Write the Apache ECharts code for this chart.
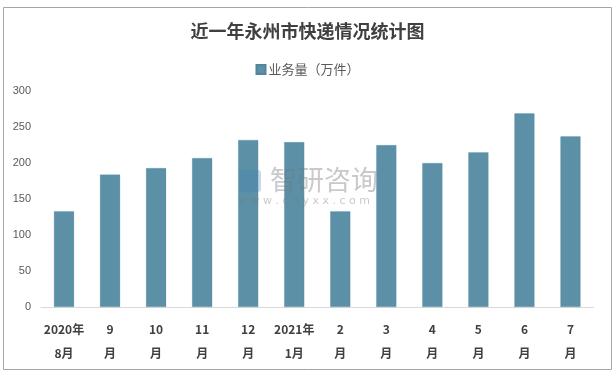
<!DOCTYPE html>
<html>
<head>
<meta charset="utf-8">
<script src="https://cdn.jsdelivr.net/npm/echarts@6/dist/echarts.min.js"></script>
<style>
  html, body { margin: 0; padding: 0; background: #fff; }
  #chart { width: 615px; height: 376px; }
</style>
</head>
<body>
<div id="chart"></div>
<script>
const months = ['2020年\n8月', '9\n月', '10\n月', '11\n月', '12\n月', '2021年\n1月', '2\n月', '3\n月', '4\n月', '5\n月', '6\n月', '7\n月'];
const volume = [133, 184, 193, 207, 232, 229, 133, 225, 200, 215, 269, 237];
const yTicks = [0, 50, 100, 150, 200, 250, 300];

const chart = echarts.init(document.getElementById('chart'), null, { renderer: 'canvas' });

chart.setOption({
  animation: false,
  title: {
    text: '近一年永州市快递情况统计图',
    left: 'center',
    top: 17,
    textStyle: {
      fontFamily: 'Noto Sans CJK SC',
      fontSize: 18,
      fontWeight: 'bold',
      color: '#404040'
    }
  },
  legend: {
    data: ['业务量（万件）'],
    top: 58,
    left: 'center',
    itemWidth: 9,
    itemHeight: 9,
    itemGap: 4,
    icon: 'rect',
    textStyle: { fontFamily: 'Noto Sans CJK SC', fontSize: 13, color: '#595959', padding: [0, 0, 0, -2] }
  },
  graphic: [
    {
      type: 'rect',
      shape: { x: 3.5, y: 7.5, width: 608, height: 362 },
      style: { fill: 'none', stroke: '#a6a6a6', lineWidth: 1 },
      silent: true
    },
    {
      type: 'text',
      left: 270,
      top: 166,
      style: { text: '智研咨询', font: '27px "Noto Sans CJK SC"', fill: 'rgba(120,120,120,0.4)' },
      silent: true, z: 10
    },
    {
      type: 'rect',
      shape: { x: 239, y: 170, width: 22, height: 22, r: 3 },
      style: { fill: 'rgba(70,130,180,0.3)' },
      silent: true, z: 10
    },
    {
      type: 'text',
      left: 238,
      top: 196,
      style: { text: 'w w w . c h y x x . c o m', font: '11px "DejaVu Sans"', fill: 'rgba(120,120,120,0.4)' },
      silent: true, z: 10
    }
  ],
  grid: { left: 41, right: 21.5, top: 91, bottom: 69 },
  xAxis: {
    type: 'category',
    data: months,
    axisLine: { lineStyle: { color: '#d9d9d9' } },
    axisTick: { show: false },
    axisLabel: {
      interval: 0,
      margin: 10,
      lineHeight: 24,
      fontFamily: 'Noto Sans CJK SC',
      fontSize: 12,
      fontWeight: 'bold',
      color: '#404040'
    }
  },
  yAxis: {
    type: 'value',
    min: yTicks[0],
    max: yTicks[yTicks.length - 1],
    interval: 50,
    splitLine: { show: false },
    axisLine: { show: false },
    axisTick: { show: false },
    axisLabel: { fontFamily: 'Liberation Sans', fontSize: 11, color: '#595959', margin: 10 }
  },
  series: [
    {
      name: '业务量（万件）',
      type: 'bar',
      data: volume,
      barWidth: '44%',
      itemStyle: { color: '#5b90a7', borderColor: '#52859c', borderWidth: 0.5, borderType: 'dotted' }
    }
  ]
});
</script>
</body>
</html>
